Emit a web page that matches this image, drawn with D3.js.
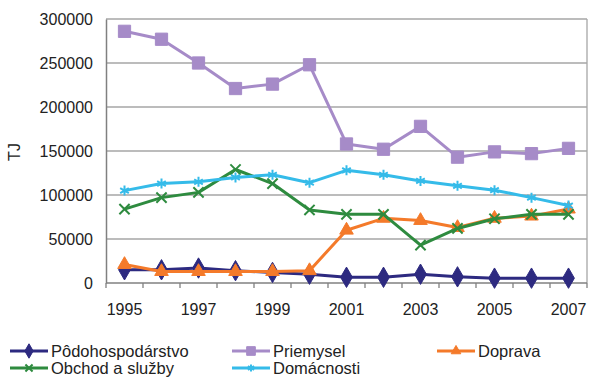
<!DOCTYPE html>
<html><head><meta charset="utf-8">
<script src="https://cdn.jsdelivr.net/npm/d3@7"></script>
<style>
html,body{margin:0;padding:0;background:#fff;}
svg{display:block;font-family:"Liberation Sans",Arial,sans-serif;}
</style></head>
<body><svg id="c" width="589" height="379"></svg>
<script>
const years = [1995,1996,1997,1998,1999,2000,2001,2002,2003,2004,2005,2006,2007];
const yTicks = [0,50000,100000,150000,200000,250000,300000];
const xLabelYears = [1995,1997,1999,2001,2003,2005,2007];
const podohospodarstvo = [15000,15000,17000,14000,12000,10000,6500,6500,10000,7000,5500,5500,5500];
const priemysel = [286000,277000,250000,221000,226000,248000,158000,152000,178000,143000,149000,147000,153000];
const doprava = [21000,13000,13000,13000,13000,14000,60000,73500,71000,63000,73500,76000,84000];
const obchod = [84000,97000,103000,129000,113000,83000,78000,78000,43000,62000,73000,78000,78000];
const domacnosti = [105000,113000,115000,120000,123000,114000,128000,123000,116000,110500,105500,97000,88000];

const series = [
  {name:"Pôdohospodárstvo", values:podohospodarstvo, color:"#2d2a80", sym:d3.symbolDiamond, size:120, fill:true},
  {name:"Priemysel", values:priemysel, color:"#a68bc8", sym:d3.symbolSquare, size:150, fill:true},
  {name:"Doprava", values:doprava, color:"#f47a2a", sym:d3.symbolTriangle, size:80, fill:true},
  {name:"Obchod a služby", values:obchod, color:"#2e8b3f", sym:d3.symbolTimes, size:70, fill:false},
  {name:"Domácnosti", values:domacnosti, color:"#35bbe9", sym:d3.symbolAsterisk, size:70, fill:false}
];

const svg = d3.select("#c");
const L=106, R=587, T=19, B=283;
const x = d3.scaleBand().domain(years).range([L,R]).padding(0);
const y = d3.scaleLinear().domain([0,300000]).range([B,T]);

// gridlines
svg.append("g").selectAll("line").data(yTicks.filter(d=>d>0)).join("line")
  .attr("x1",L).attr("x2",R).attr("y1",d=>y(d)).attr("y2",d=>y(d))
  .attr("stroke","#a6a6a6").attr("stroke-width",1.3);
// right frame
svg.append("line").attr("x1",R).attr("x2",R).attr("y1",T).attr("y2",B)
  .attr("stroke","#a6a6a6").attr("stroke-width",1.3);

// y axis
const ya = svg.append("g").attr("transform",`translate(${L},0)`)
  .call(d3.axisLeft(y).tickValues(yTicks).tickSize(0).tickPadding(13).tickFormat(d3.format("d")));
ya.select(".domain").attr("stroke","#808080").attr("stroke-width",1.5);
ya.selectAll("text").attr("font-size",16).attr("fill","#222").attr("font-family","Liberation Sans, Arial, sans-serif");

// x axis
const xa = svg.append("g").attr("transform",`translate(0,${B})`);
xa.append("line").attr("x1",L).attr("x2",R).attr("stroke","#808080").attr("stroke-width",1.5);
const bounds = years.map(d=>x(d)).concat([x(years[years.length-1])+x.bandwidth()]);
xa.selectAll("line.t").data(bounds).join("line").attr("class","t")
  .attr("x1",d=>d).attr("x2",d=>d).attr("y1",0).attr("y2",5)
  .attr("stroke","#808080").attr("stroke-width",1.3);
xa.selectAll("text").data(xLabelYears).join("text")
  .attr("x",d=>x(d)+x.bandwidth()/2).attr("y",32)
  .attr("text-anchor","middle").attr("font-size",16).attr("fill","#222").text(d=>d);

// y title
svg.append("text").attr("transform","translate(20,152) rotate(-90)")
  .attr("text-anchor","middle").attr("font-size",16).attr("fill","#222").text("TJ");

// series
const cx = d=>x(d)+x.bandwidth()/2;
const line = d3.line().x((d,i)=>cx(years[i])).y(d=>y(d));
series.forEach(s=>{
  const g = svg.append("g");
  g.append("path").attr("d",line(s.values)).attr("fill","none")
    .attr("stroke",s.color).attr("stroke-width",3).attr("stroke-linejoin","round");
  g.selectAll("path.m").data(s.values).join("path").attr("class","m")
    .attr("transform",(d,i)=>`translate(${cx(years[i])},${y(d)})`)
    .attr("d",d3.symbol().type(s.sym).size(s.size))
    .attr("fill",s.fill?s.color:"none").attr("stroke",s.color).attr("stroke-width",s.fill?1:2);
});

// legend
const legendPos = [
  {x:10,y:351},{x:232,y:351},{x:437,y:351},{x:10,y:368},{x:232,y:368}
];
series.forEach((s,i)=>{
  const p = legendPos[i];
  const g = svg.append("g").attr("transform",`translate(${p.x},${p.y})`);
  g.append("line").attr("x1",0).attr("x2",38).attr("stroke",s.color).attr("stroke-width",3);
  g.append("path").attr("transform","translate(19,0)")
    .attr("d",d3.symbol().type(s.sym).size(s.size*0.5))
    .attr("fill",s.fill?s.color:"none").attr("stroke",s.color).attr("stroke-width",s.fill?1:2);
  g.append("text").attr("x",41).attr("y",5.5).attr("font-size",16.5).attr("fill","#222").text(s.name);
});
</script></body></html>
